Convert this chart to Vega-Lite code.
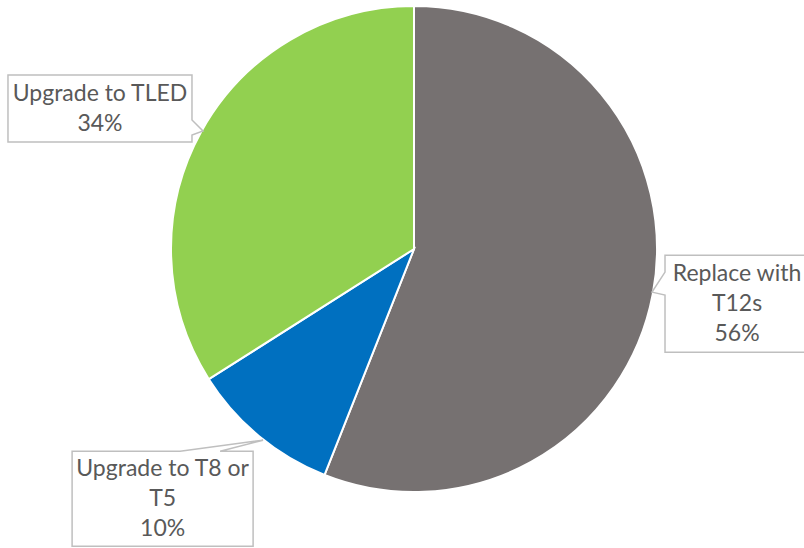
{
  "$schema": "https://vega.github.io/schema/vega-lite/v6.json",
  "autosize": {"type": "none"},
  "padding": {"left": 0, "top": 0, "right": 0, "bottom": 50},
  "width": 828,
  "height": 498,
  "background": "white",
  "config": {"view": {"stroke": null}},
  "data": {
    "values": [
      {"category": "Replace with T12s", "name": "Replace with\nT12s", "value": 56, "order": 1},
      {"category": "Upgrade to T8 or T5", "name": "Upgrade to T8 or\nT5", "value": 10, "order": 2},
      {"category": "Upgrade to TLED", "name": "Upgrade to TLED", "value": 34, "order": 3}
    ]
  },
  "layer": [
    {
      "mark": {"type": "arc", "outerRadius": 243, "stroke": "white", "strokeWidth": 2},
      "encoding": {
        "theta": {"field": "value", "type": "quantitative", "stack": true},
        "order": {"field": "order", "type": "quantitative"},
        "color": {
          "field": "category",
          "type": "nominal",
          "scale": {
            "domain": ["Replace with T12s", "Upgrade to T8 or T5", "Upgrade to TLED"],
            "range": ["#767171", "#0070C0", "#92D050"]
          },
          "legend": null
        }
      }
    },
    {
      "transform": [
        {"stack": "value", "groupby": [], "sort": [{"field": "order"}], "offset": "normalize", "as": ["v0", "v1"]},
        {"calculate": "(datum.v0 + datum.v1) * PI", "as": "mid"},
        {"calculate": "datum.mid + (datum.order == 1 ? -1.2 : datum.order == 2 ? 5.6 : -4.7) * PI / 180", "as": "ang"},
        {"calculate": "datum.order == 1 ? 327.6 : datum.order == 2 ? 354.3 : 344", "as": "r"},
        {"calculate": "datum.r * sin(datum.ang)", "as": "lx"},
        {"calculate": "datum.r * cos(datum.ang)", "as": "ly"},
        {"calculate": "datum.name + '\\n' + datum.value + '%'", "as": "label"},
        {"calculate": "datum.ly + (split(datum.label, '\\n').length - 1) * 15", "as": "lyt"}
      ],
      "layer": [
        {
          "mark": {"type": "point", "filled": true, "fill": "white", "stroke": "#BFBFBF", "strokeWidth": 1.5, "opacity": 1, "size": 4, "strokeJoin": "miter"},
          "encoding": {
            "x": {"field": "lx", "type": "quantitative", "scale": {"domain": [-414, 414], "nice": false, "zero": false}, "axis": null},
            "y": {"field": "ly", "type": "quantitative", "scale": {"domain": [-249, 249], "nice": false, "zero": false}, "axis": null},
            "shape": {
              "field": "category",
              "type": "nominal",
              "scale": {
                "domain": ["Replace with T12s", "Upgrade to T8 or T5", "Upgrade to TLED"],
                "range": [
                  "M-72,-48.5H72V48.5H-72V-8.5L-85,-11.5L-72,-31.5Z",
                  "M-90.5,-47.5H17.5L100.5,-58.5L57.5,-47.5H90.5V47.5H-90.5Z",
                  "M-92,-33.5H92V11.5L103,22.5L92,26.5V33.5H-92Z"
                ]
              },
              "legend": null
            }
          }
        },
        {
          "mark": {"type": "text", "align": "center", "baseline": "middle", "lineBreak": "\n", "font": "Lato", "fontSize": 23, "lineHeight": 30, "color": "#595959"},
          "encoding": {
            "x": {"field": "lx", "type": "quantitative"},
            "y": {"field": "lyt", "type": "quantitative"},
            "text": {"field": "label", "type": "nominal"}
          }
        }
      ]
    }
  ]
}
